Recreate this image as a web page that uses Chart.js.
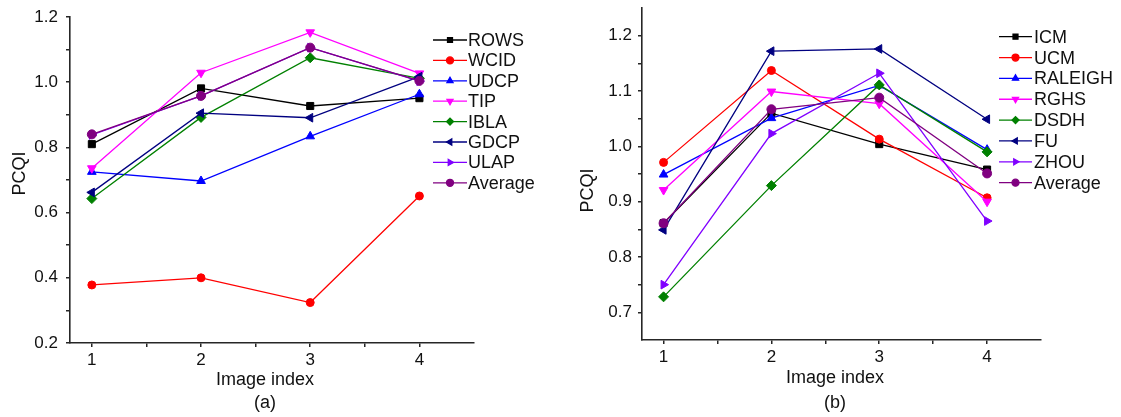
<!DOCTYPE html>
<html>
<head>
<meta charset="utf-8">
<script src="https://cdn.jsdelivr.net/npm/chart.js@4/dist/chart.umd.min.js"></script>
<style>
  html, body { margin: 0; padding: 0; background: #fff; }
  #wrap { position: relative; width: 1121px; height: 417px; overflow: hidden; }
  #ca { position: absolute; left: 0; top: 0; }
  #cb { position: absolute; left: 560px; top: 0; }
</style>
</head>
<body>
<div id="wrap">
  <canvas id="ca" width="560" height="417"></canvas>
  <canvas id="cb" width="561" height="417"></canvas>
</div>
<script>
// ---------- data ----------
const imageIndex = [1, 2, 3, 4];
const xTickValues = [1, 1.5, 2, 2.5, 3, 3.5, 4];
const yTickValuesA = [0.2, 0.3, 0.4, 0.5, 0.6, 0.7, 0.8, 0.9, 1.0, 1.1, 1.2];
const yTickValuesB = [0.7, 0.75, 0.8, 0.85, 0.9, 0.95, 1.0, 1.05, 1.1, 1.15, 1.2];

const namesA = ['ROWS', 'WCID', 'UDCP', 'TIP', 'IBLA', 'GDCP', 'ULAP', 'Average'];
const rowsA    = [0.810, 0.981, 0.927, 0.951];
const wcidA    = [0.378, 0.400, 0.324, 0.651];
const udcpA    = [0.725, 0.697, 0.834, 0.963];
const tipA     = [0.736, 1.029, 1.153, 1.027];
const iblaA    = [0.643, 0.892, 1.075, 1.012];
const gdcpA    = [0.662, 0.905, 0.891, 1.017];
const ulapA    = [0.838, 0.958, 1.106, 1.003];
const averageA = [0.840, 0.958, 1.106, 1.004];

const namesB = ['ICM', 'UCM', 'RALEIGH', 'RGHS', 'DSDH', 'FU', 'ZHOU', 'Average'];
const icmB     = [0.861, 1.060, 1.004, 0.958];
const ucmB     = [0.971, 1.137, 1.013, 0.907];
const raleighB = [0.949, 1.051, 1.110, 0.994];
const rghsB    = [0.921, 1.099, 1.077, 0.900];
const dsdhB    = [0.728, 0.929, 1.111, 0.990];
const fuB      = [0.849, 1.172, 1.176, 1.049];
const zhouB    = [0.750, 1.023, 1.132, 0.865];
const averageB = [0.861, 1.067, 1.088, 0.951];

// ---------- styles ----------
const seriesColors = ['#000000', '#ff0000', '#0000ff', '#ff00ff', '#008000', '#000080', '#8000ff', '#800080'];
const seriesMarkers = [
  { style: 'rect', rot: 0, r: 5 },
  { style: 'circle', rot: 0, r: 4 },
  { style: 'triangle', rot: 0, r: 5 },
  { style: 'triangle', rot: 180, r: 5 },
  { style: 'rectRot', rot: 0, r: 5 },
  { style: 'triangle', rot: -90, r: 5 },
  { style: 'triangle', rot: 90, r: 5 },
  { style: 'circle', rot: 0, r: 4.5 }
];
const FONT = '"Liberation Sans", Arial, Helvetica, sans-serif';
const INK = '#111111';
const AXIS = '#262626';

function buildDatasets(names, seriesList) {
  return seriesList.map((vals, i) => ({
    label: names[i],
    data: vals.map((v, k) => ({ x: imageIndex[k], y: v })),
    borderColor: seriesColors[i],
    backgroundColor: seriesColors[i],
    pointBackgroundColor: seriesColors[i],
    pointBorderColor: seriesColors[i],
    borderWidth: 1.3,
    pointStyle: seriesMarkers[i].style,
    pointRotation: seriesMarkers[i].rot,
    pointRadius: seriesMarkers[i].r,
    pointBorderWidth: 1,
    tension: 0,
    fill: false,
    order: seriesList.length - i
  }));
}

const decorPlugin = {
  id: 'decor',
  afterDraw(chart, args, o) {
    const ctx = chart.ctx;
    ctx.save();
    chart.data.datasets.forEach((ds, i) => {
      const y = o.legendY0 + i * o.legendDy;
      ctx.strokeStyle = ds.borderColor;
      ctx.fillStyle = ds.backgroundColor;
      ctx.lineWidth = 1.3;
      ctx.beginPath();
      ctx.moveTo(o.lx0, y);
      ctx.lineTo(o.lx1, y);
      ctx.stroke();
      Chart.helpers.drawPoint(ctx, {
        pointStyle: ds.pointStyle, rotation: ds.pointRotation,
        radius: 3.5, borderWidth: 1
      }, (o.lx0 + o.lx1) / 2, y);
      ctx.fillStyle = INK;
      ctx.font = '18px ' + FONT;
      ctx.textAlign = 'left';
      ctx.textBaseline = 'middle';
      ctx.fillText(ds.label, o.tx, y + 1);
    });
    ctx.fillStyle = INK;
    ctx.font = '18px ' + FONT;
    ctx.textAlign = 'center';
    ctx.textBaseline = 'middle';
    ctx.fillText(o.xTitle, o.xTitleX, o.xTitleY);
    ctx.fillText(o.panel, o.xTitleX, o.panelY);
    ctx.translate(o.yTitleX, o.yTitleY);
    ctx.rotate(-Math.PI / 2);
    ctx.fillText(o.yTitle, 0, 0);
    ctx.restore();
  }
};

function makeChart(id, datasets, yMin, yMax, yTicks, isMajor, yWidth, yPad, xHeight, pad, decor) {
  return new Chart(document.getElementById(id), {
    type: 'line',
    data: { datasets },
    plugins: [decorPlugin],
    options: {
      responsive: false,
      animation: false,
      devicePixelRatio: 1,
      layout: { padding: pad },
      plugins: {
        legend: { display: false },
        tooltip: { enabled: false },
        decor: decor
      },
      scales: {
        x: {
          type: 'linear',
          min: 0.8, max: 4.5,
          afterBuildTicks: s => { s.ticks = xTickValues.map(v => ({ value: v })); },
          afterFit: s => { s.height = xHeight; s.paddingLeft = 0; s.paddingRight = 0; },
          ticks: {
            autoSkip: false, maxRotation: 0, padding: 3,
            color: INK, font: { family: FONT, size: 17 },
            callback: v => Number.isInteger(v) ? String(v) : ''
          },
          grid: { display: true, drawOnChartArea: false, drawTicks: true, tickLength: 4, color: AXIS, lineWidth: 1.5 },
          border: { display: true, color: AXIS, width: 1.6 }
        },
        y: {
          type: 'linear',
          min: yMin, max: yMax,
          afterBuildTicks: s => { s.ticks = yTicks.map(v => ({ value: v })); },
          afterFit: s => { s.width = yWidth; s.paddingTop = 0; s.paddingBottom = 0; },
          ticks: {
            autoSkip: false, padding: yPad,
            color: INK, font: { family: FONT, size: 17 },
            callback: v => isMajor(v) ? v.toFixed(1) : ''
          },
          grid: { display: true, drawOnChartArea: false, drawTicks: true, tickLength: 4, color: AXIS, lineWidth: 1.5 },
          border: { display: true, color: AXIS, width: 1.6 }
        }
      }
    }
  });
}

makeChart('ca',
  buildDatasets(namesA, [rowsA, wcidA, udcpA, tipA, iblaA, gdcpA, ulapA, averageA]),
  0.2, 1.2, yTickValuesA,
  v => Math.round(v * 10) % 2 === 0,
  70, 8, 74,
  { left: 0, top: 17, right: 86, bottom: 0 },
  { legendY0: 40, legendDy: 20.4, lx0: 433, lx1: 467, tx: 468,
    xTitle: 'Image index', panel: '(a)', xTitleX: 265, xTitleY: 380, panelY: 403,
    yTitle: 'PCQI', yTitleX: 20, yTitleY: 173.5 }
);

makeChart('cb',
  buildDatasets(namesB, [icmB, ucmB, raleighB, rghsB, dsdhB, fuB, zhouB, averageB]),
  0.65, 1.25, yTickValuesB,
  v => Math.round(v * 100) % 10 === 0,
  82, 6, 77,
  { left: 0, top: 8, right: 80, bottom: 0 },
  { legendY0: 36.7, legendDy: 20.85, lx0: 439, lx1: 472, tx: 474,
    xTitle: 'Image index', panel: '(b)', xTitleX: 275, xTitleY: 378, panelY: 403,
    yTitle: 'PCQI', yTitleX: 28, yTitleY: 190.5 }
);
</script>
</body>
</html>
